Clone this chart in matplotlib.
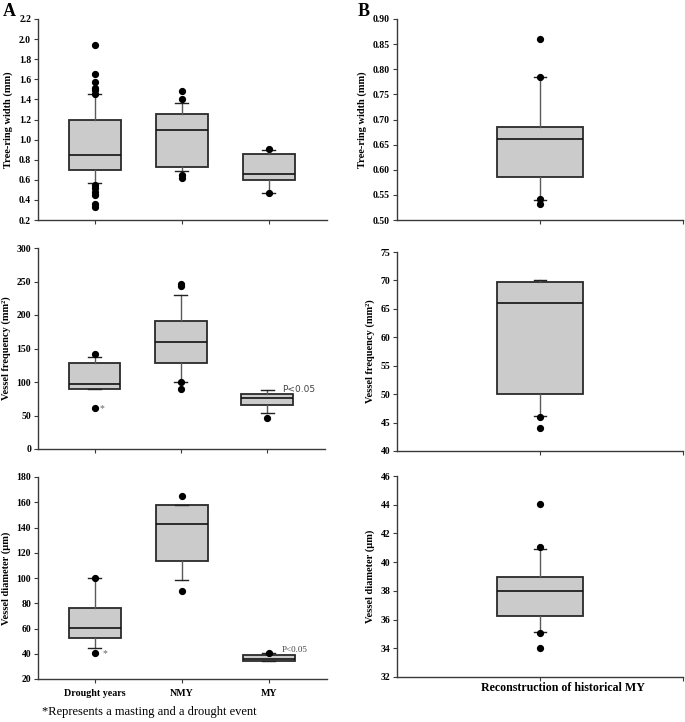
import matplotlib
matplotlib.use("Agg")
import matplotlib.pyplot as plt
from matplotlib.ticker import FormatStrFormatter

plt.rcParams['font.family'] = ['Liberation Serif', 'DejaVu Serif']

# ---------------- data ----------------
groups_A = ["Drought years", "NMY", "MY"]
group_B = ["Reconstruction of historical MY"]

# Tree-ring width (mm) panel A: q1, median, q3, whisker low, whisker high
trw_q1 = [0.70, 0.725, 0.595]
trw_med = [0.85, 1.097, 0.658]
trw_q3 = [1.20, 1.25, 0.855]
trw_wlo = [0.572, 0.685, 0.472]
trw_whi = [1.452, 1.36, 0.90]
trw_fliers = [[1.94, 1.655, 1.572, 1.512, 1.49, 1.456, 0.549, 0.516, 0.48, 0.45, 0.36, 0.326],
              [1.486, 1.40, 0.649, 0.619],
              [0.911, 0.466]]

# Vessel frequency (mm2) panel A
vf_q1 = [89.2, 128.0, 65.3]
vf_med = [97.7, 160.0, 76.2]
vf_q3 = [128.0, 190.8, 82.2]
vf_wlo = [89.0, 100.6, 54.3]
vf_whi = [137.0, 229.7, 88.2]
vf_fliers = [[142.0, 60.8],
             [245.6, 243.6, 100.0, 89.2],
             [46.8]]

# Vessel diameter (um) panel A
vd_q1 = [52.3, 113.2, 34.0]
vd_med = [60.5, 142.9, 36.2]
vd_q3 = [76.4, 157.5, 38.8]
vd_wlo = [44.4, 98.7, 34.0]
vd_whi = [100.3, 157.5, 40.7]
vd_fliers = [[100.3, 40.9],
             [164.6, 89.7],
             [40.7]]

# Panel B (reconstruction of historical MY)
b_trw = dict(q1=0.585, med=0.662, q3=0.685, wlo=0.540, whi=0.784, fl=[0.861, 0.784, 0.541, 0.531])
b_vf = dict(q1=50.1, med=66.1, q3=69.8, wlo=46.1, whi=70.0, fl=[46.0, 44.0])
b_vd = dict(q1=36.27, med=38.0, q3=39.0, wlo=35.1, whi=40.9, fl=[41.03, 44.03, 35.04, 34.04])

# axis ticks
trwA_ticks = [0.2, 0.4, 0.6, 0.8, 1.0, 1.2, 1.4, 1.6, 1.8, 2.0, 2.2]
vfA_ticks = [0, 50, 100, 150, 200, 250, 300]
vdA_ticks = [20, 40, 60, 80, 100, 120, 140, 160, 180]
trwB_ticks = [0.50, 0.55, 0.60, 0.65, 0.70, 0.75, 0.80, 0.85, 0.90]
vfB_ticks = [40, 45, 50, 55, 60, 65, 70, 75]
vdB_ticks = [32, 34, 36, 38, 40, 42, 44, 46]

# ---------------- styling ----------------
W, H = 685, 722
fig = plt.figure(figsize=(W / 100, H / 100), dpi=100)

def ax_at(l, r, t, b):
    return fig.add_axes([l / W, (H - b) / H, (r - l) / W, (b - t) / H])

SP = '#3a3a3a'
BOXFACE = '#cbcbcb'

def style(ax):
    for s in ['top', 'right']:
        ax.spines[s].set_visible(False)
    for s in ['left', 'bottom']:
        ax.spines[s].set_color(SP)
        ax.spines[s].set_linewidth(1.0)
    ax.tick_params(axis='both', direction='out', length=3, width=0.8, color=SP,
                   labelsize=7, pad=2)
    for lab in ax.get_yticklabels():
        lab.set_fontweight('bold')

def draw(ax, q1, med, q3, wlo, whi, fl, positions, capw):
    stats = []
    for i in range(len(q1)):
        stats.append(dict(q1=q1[i], med=med[i], q3=q3[i], whislo=wlo[i], whishi=whi[i],
                          fliers=fl[i]))
    ax.bxp(stats, positions=positions, widths=0.6, capwidths=capw, patch_artist=True,
           showfliers=True,
           boxprops=dict(facecolor=BOXFACE, edgecolor='#2a2a2a', linewidth=1.3),
           medianprops=dict(color='#111111', linewidth=1.2),
           whiskerprops=dict(color='#5a5a5a', linewidth=1.0),
           capprops=dict(color='#222222', linewidth=1.0),
           flierprops=dict(marker='o', markerfacecolor='black', markeredgecolor='black',
                           markersize=4.2, linestyle='none'))

ylab_kw = dict(fontsize=7.5, fontweight='bold')

# ---- Panel A ----
axA1 = ax_at(38, 327, 19, 220)
axA2 = ax_at(38, 325, 248, 449)
axA3 = ax_at(38, 327, 477, 679)
posA = [1, 2, 3]

draw(axA1, trw_q1, trw_med, trw_q3, trw_wlo, trw_whi, trw_fliers, posA, 0.15)
draw(axA2, vf_q1, vf_med, vf_q3, vf_wlo, vf_whi, vf_fliers, posA, 0.15)
draw(axA3, vd_q1, vd_med, vd_q3, vd_wlo, vd_whi, vd_fliers, posA, 0.15)

axA1.set_ylim(0.2, 2.2); axA1.set_yticks(trwA_ticks)
axA1.yaxis.set_major_formatter(FormatStrFormatter('%.1f'))
axA2.set_ylim(0, 300); axA2.set_yticks(vfA_ticks)
axA3.set_ylim(20, 180); axA3.set_yticks(vdA_ticks)

for ax in (axA1, axA2, axA3):
    ax.set_xlim(0.345, 3.67)
    ax.set_xticks(posA)
    ax.set_xticklabels(['', '', ''])
axA3.set_xticklabels(groups_A, fontweight='bold')

axA1.set_ylabel('Tree-ring width (mm)', labelpad=4, **ylab_kw)
axA2.set_ylabel('Vessel frequency (mm²)', labelpad=4, **ylab_kw)
axA3.set_ylabel('Vessel diameter (μm)', labelpad=4, **ylab_kw)

axA2.text(3.17, 82, 'P<0.05', fontsize=6.5, color='#444444', family='DejaVu Sans',
          ha='left', va='bottom')
axA3.text(3.15, 39.5, 'P<0.05', fontsize=6.5, color='#444444', ha='left', va='bottom')
axA2.text(1.09, 60.8, '*', fontsize=7, color='#666666', ha='center', va='center')
axA3.text(1.11, 40.0, '*', fontsize=7, color='#666666', ha='center', va='center')

# ---- Panel B ----
axB1 = ax_at(397, 683, 19, 220)
axB2 = ax_at(397, 683, 252, 451)
axB3 = ax_at(397, 683, 476, 677)

for ax, d in ((axB1, b_trw), (axB2, b_vf), (axB3, b_vd)):
    draw(ax, [d['q1']], [d['med']], [d['q3']], [d['wlo']], [d['whi']], [d['fl']], [1], 0.09)
    ax.set_xlim(0, 2)
    ax.set_xticks([1, 2])
    ax.set_xticklabels(['', ''])

axB1.set_ylim(0.5, 0.9); axB1.set_yticks(trwB_ticks)
axB1.yaxis.set_major_formatter(FormatStrFormatter('%.2f'))
axB2.set_ylim(40, 75); axB2.set_yticks(vfB_ticks)
axB3.set_ylim(32, 46); axB3.set_yticks(vdB_ticks)

axB1.set_ylabel('Tree-ring width (mm)', labelpad=4, **ylab_kw)
axB2.set_ylabel('Vessel frequency (mm²)', labelpad=4, **ylab_kw)
axB3.set_ylabel('Vessel diameter (μm)', labelpad=4, **ylab_kw)

for ax in (axA1, axA2, axA3, axB1, axB2, axB3):
    style(ax)
for lab in axA3.get_xticklabels():
    lab.set_fontweight('bold')
axA3.tick_params(axis='x', pad=4, labelsize=7.2)

# category label of panel B sits slightly right of its tick in the original
axB3.text((563 - 397) / 286, -11 / 201, group_B[0], transform=axB3.transAxes,
          fontsize=8.6, fontweight='bold', ha='center', va='center')

fig.text(3 / W, 1 - 12 / H, 'A', fontsize=13, fontweight='bold', va='center', ha='left')
fig.text(358 / W, 1 - 12 / H, 'B', fontsize=13, fontweight='bold', va='center', ha='left')
fig.text(42 / W, 1 - 712 / H, '*Represents a masting and a drought event', fontsize=9,
         va='center', ha='left')

fig.savefig('out.png', dpi=100)
